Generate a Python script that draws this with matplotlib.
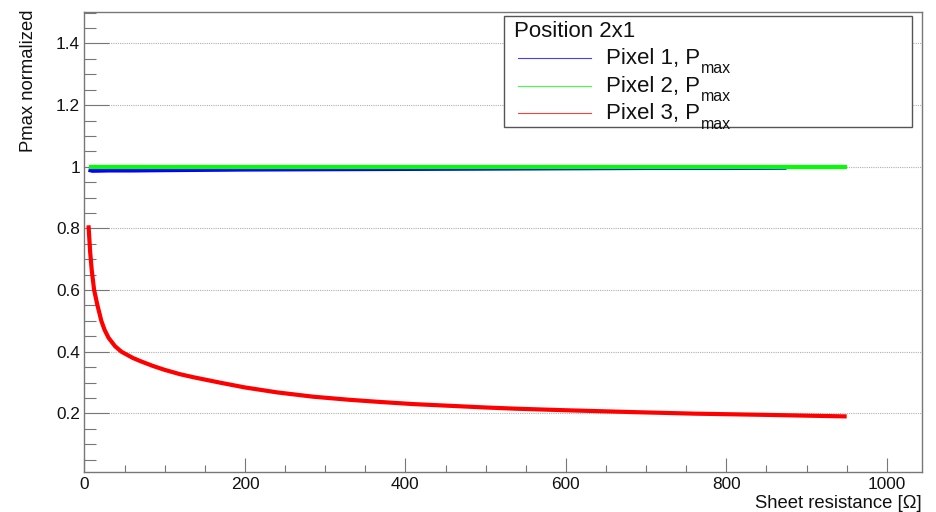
import matplotlib
matplotlib.use('Agg')
import matplotlib.pyplot as plt
from matplotlib.ticker import MultipleLocator, FuncFormatter
from matplotlib.patches import Rectangle
from matplotlib.lines import Line2D

plt.rcParams['font.family'] = ['Liberation Sans', 'DejaVu Sans']

# ---------------- data ----------------
legend_title = "Position 2x1"
series_labels = ["Pixel 1, P", "Pixel 2, P", "Pixel 3, P"]
label_sub = "max"
series_colors = ["#0000ff", "#00ff00", "#ff0000"]

x_label = "Sheet resistance [\u03a9]"
y_label = "Pmax normalized"

pix1_x = [5, 10, 30, 60, 100, 150, 200, 300, 400, 500, 600, 700, 800, 875]
pix1_y = [0.990, 0.987, 0.988, 0.988, 0.989, 0.990, 0.991, 0.992, 0.993,
          0.994, 0.995, 0.996, 0.996, 0.997]

pix2_x = [5, 100, 200, 300, 400, 500, 600, 700, 800, 950]
pix2_y = [1.0, 1.0, 1.0, 1.0, 1.0, 1.0, 1.0, 1.0, 1.0, 1.0]

pix3_x = [5, 7, 9, 12, 16, 21, 25, 30, 38, 46, 60, 70, 85, 100, 119, 136,
          170, 200, 240, 285, 330, 368, 410, 451, 500, 539, 600, 684, 760,
          850, 950]
pix3_y = [0.81, 0.725, 0.665, 0.60, 0.552, 0.500, 0.471, 0.445, 0.418, 0.400,
          0.380, 0.369, 0.354, 0.341, 0.327, 0.317, 0.299, 0.284, 0.268,
          0.254, 0.244, 0.237, 0.230, 0.225, 0.219, 0.215, 0.210, 0.204,
          0.199, 0.195, 0.190]

series = [(pix1_x, pix1_y), (pix2_x, pix2_y), (pix3_x, pix3_y)]

# ---------------- figure ----------------
W, H = 937, 512
fig = plt.figure(figsize=(W / 100, H / 100), dpi=100)

def fx(px):
    return px / W

def fy(py):
    return 1 - py / H

left, right, top, bottom = 84.5, 921.7, 11.7, 472.0
ax = fig.add_axes([fx(left), fy(bottom), fx(right) - fx(left), fy(top) - fy(bottom)])

for (xs, ys), c in zip(series, series_colors):
    ax.plot(xs, ys, color=c, lw=3.0, solid_capstyle='butt', solid_joinstyle='round', zorder=3)

ax.set_xlim(0, 1043.5)
ax.set_ylim(0.0097, 1.503)

frame_col = '#777777'
for s in ax.spines.values():
    s.set_color(frame_col)
    s.set_linewidth(1.0)

ax.xaxis.set_major_locator(MultipleLocator(200))
ax.xaxis.set_minor_locator(MultipleLocator(50))
ax.yaxis.set_major_locator(MultipleLocator(0.2))
ax.yaxis.set_minor_locator(MultipleLocator(0.05))
fmt = FuncFormatter(lambda v, _: f"{v:g}")
ax.xaxis.set_major_formatter(fmt)
ax.yaxis.set_major_formatter(fmt)

ax.tick_params(axis='both', which='both', direction='in', color=frame_col, width=0.8,
               labelsize=12.4, labelcolor='#111111')
ax.tick_params(axis='x', which='major', length=9.8, pad=3.5)
ax.tick_params(axis='x', which='minor', length=5.0)
ax.tick_params(axis='y', which='major', length=18, pad=3.2)
ax.tick_params(axis='y', which='minor', length=8.4)
ax.tick_params(top=False, right=False, which='both')

ax.yaxis.grid(True, which='major', color='#b0b0b0', linestyle=(0, (1, 1)), lw=0.8)
ax.set_axisbelow(True)

# axis titles (ROOT-style placement)
fig.text(fx(921.5), fy(508.3), x_label, ha='right', va='baseline', fontsize=13.3, color='#111111')
fig.text(fx(37.5), fy(10), y_label, rotation=90, ha='right', va='top', fontsize=13.3, color='#111111')

# ---------------- legend (ROOT TLegend style) ----------------
box = Rectangle((fx(503.5), fy(126.7)), fx(912) - fx(503.5), fy(16) - fy(126.7),
                transform=fig.transFigure, facecolor='white', edgecolor='#555555',
                lw=1.0, zorder=10)
fig.add_artist(box)
fig.text(fx(514), fy(37.3), legend_title, ha='left', va='baseline', fontsize=16, zorder=11,
         color='#111111')

renderer = fig.canvas.get_renderer()
line_ys = [58.3, 85.7, 113.3]
text_ys = [64.0, 91.7, 119.3]
for lab, c, ly, ty in zip(series_labels, series_colors, line_ys, text_ys):
    fig.add_artist(Line2D([fx(518), fx(591)], [fy(ly), fy(ly)], transform=fig.transFigure,
                          color=c, lw=0.8, alpha=0.75, zorder=11))
    t = fig.text(fx(606), fy(ty), lab, ha='left', va='baseline', fontsize=16, zorder=11,
                 color='#111111')
    bb = t.get_window_extent(renderer=renderer)
    fig.text(bb.x1 / W + 0.5 / W, fy(ty + 9.3), label_sub, ha='left', va='baseline',
             fontsize=11.5, zorder=11, color='#111111')

fig.savefig('out.png', dpi=100)
